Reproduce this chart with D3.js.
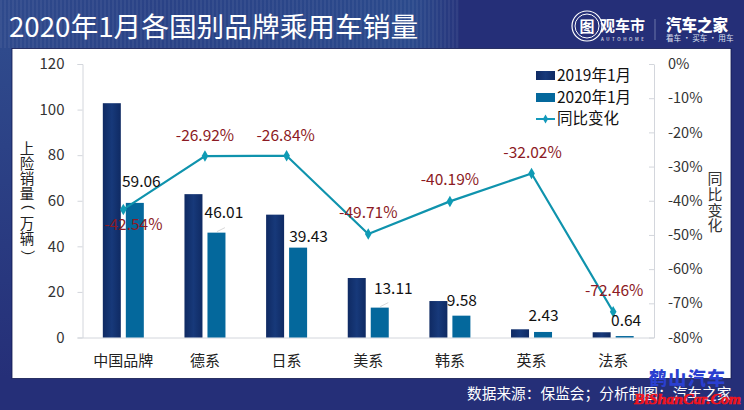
<!DOCTYPE html>
<html><head><meta charset="utf-8">
<script src="https://cdn.jsdelivr.net/npm/d3@7/dist/d3.min.js"></script>
<style>html,body{margin:0;padding:0;background:#252f78}svg{display:block}text{font-family:"Noto Sans CJK SC","Noto Sans",sans-serif}</style>
</head><body><svg id="c" width="744" height="410"></svg>
<script>
const categories=["中国品牌","德系","日系","美系","韩系","英系","法系"];
const sales2019=[102.8,62.9,53.9,26.1,16.0,3.6,2.3];
const sales2020=[59.06,46.01,39.43,13.11,9.58,2.43,0.64];
const change=[-42.54,-26.92,-26.84,-49.71,-40.19,-32.02,-72.46];
const leftTicks=[0,20,40,60,80,100,120];
const rightTicks=[0,-10,-20,-30,-40,-50,-60,-70,-80];
const seriesNames=["2019年1月","2020年1月","同比变化"];
const svg=d3.select("#c");
const defs=svg.append("defs");
const bg=defs.append("linearGradient").attr("id","bg").attr("x1",0).attr("x2",1);
bg.append("stop").attr("offset",0).attr("stop-color","#2f4a8c");
bg.append("stop").attr("offset",.35).attr("stop-color","#2a4286");
bg.append("stop").attr("offset",.9).attr("stop-color","#2b4a8c");
bg.append("stop").attr("offset",1).attr("stop-color","#27357c");
const sg=defs.append("linearGradient").attr("id","side").attr("x1",0).attr("x2",0).attr("y1",0).attr("y2",1);
sg.append("stop").attr("offset",0).attr("stop-color","#2f4a8c");
sg.append("stop").attr("offset",1).attr("stop-color","#252f78");
const st=defs.append("pattern").attr("id","st").attr("width",4).attr("height",4).attr("patternUnits","userSpaceOnUse");
st.append("rect").attr("width",2).attr("height",4).attr("fill","#fff").attr("opacity",.05);
const bar1=defs.append("linearGradient").attr("id","b1").attr("x1",0).attr("x2",1);
[[0,"#0f2a63"],[.5,"#17397a"],[1,"#0f2a63"]].forEach(s=>bar1.append("stop").attr("offset",s[0]).attr("stop-color",s[1]));
svg.append("rect").attr("width",744).attr("height",410).attr("fill","#252f78");
svg.append("rect").attr("width",459).attr("height",48).attr("fill","url(#bg)");
svg.append("rect").attr("width",459).attr("height",48).attr("fill","url(#st)");
svg.append("rect").attr("x",0).attr("y",48).attr("width",12).attr("height",330).attr("fill","url(#side)");
svg.append("rect").attr("x",12).attr("y",48.5).attr("width",719).attr("height",330).attr("fill","#fff").attr("stroke","#10184f").attr("stroke-width",.8);
svg.append("text").attr("x",9).attr("y",37).attr("font-size",27.7).attr("fill","#fff").text("2020年1月各国别品牌乘用车销量");

const x=d3.scaleBand().domain(categories).range([82.5,654]);
const yL=d3.scaleLinear().domain([0,120]).range([337.5,64]);
const yR=d3.scaleLinear().domain([-80,0]).range([337.5,64]);

const axL=svg.append("g").attr("transform","translate(82.5,0)").call(d3.axisLeft(yL).tickValues(leftTicks).tickSize(5).tickPadding(13));
const axR=svg.append("g").attr("transform","translate(654,0)").call(d3.axisRight(yR).tickValues(rightTicks).tickSize(0).tickPadding(14).tickFormat(d=>d+"%"));
axR.selectAll(".tick line").attr("x1",-5).attr("x2",0);
const axB=svg.append("g").attr("transform","translate(0,337.5)").call(d3.axisBottom(x).tickSize(0).tickPadding(18));
[axL,axR,axB].forEach(a=>{a.selectAll("path,line").attr("stroke","#d3d6dc");a.selectAll("text").attr("fill","#333").attr("font-size",15).style("font-family",'"Noto Sans CJK SC"');});
axR.selectAll("text").attr("font-size",14.5);
axB.selectAll("text").attr("fill","#222");

const bw=18;
svg.append("g").selectAll("rect").data(categories).join("rect")
 .attr("x",d=>x(d)+x.bandwidth()/2-20.5).attr("width",bw)
 .attr("y",(d,i)=>yL(sales2019[i])).attr("height",(d,i)=>yL(0)-yL(sales2019[i])).attr("fill","url(#b1)");
svg.append("g").selectAll("rect").data(categories).join("rect")
 .attr("x",d=>x(d)+x.bandwidth()/2+2.5).attr("width",bw)
 .attr("y",(d,i)=>yL(sales2020[i])).attr("height",(d,i)=>yL(0)-yL(sales2020[i])).attr("fill","#04689c");

const line=d3.line().x(d=>x(d.c)+x.bandwidth()/2).y(d=>yR(d.v));
const pts=categories.map((c,i)=>({c,v:change[i]}));
svg.append("path").datum(pts).attr("d",line).attr("fill","none").attr("stroke","#0f93ad").attr("stroke-width",2.2);
svg.append("g").selectAll("path").data(pts).join("path")
 .attr("d",d3.symbol(d3.symbolDiamond,38))
 .attr("transform",d=>`translate(${x(d.c)+x.bandwidth()/2},${yR(d.v)})`).attr("fill","#0f9bb5");

// leader lines from value labels to bars
svg.append("g").selectAll("line").data([1,3]).join("line")
 .attr("x1",i=>x(categories[i])+x.bandwidth()/2+12).attr("x2",i=>x(categories[i])+x.bandwidth()/2+20)
 .attr("y1",i=>yL(sales2020[i])-1).attr("y2",i=>yL(sales2020[i])-5)
 .attr("stroke","#d9d9d9").attr("stroke-width",1);

const valDx=[18,19,22,25,12,12,13], valDy=[-22,-21,-12,-20,-16,-17,-16];
svg.append("g").selectAll("text").data(categories).join("text")
 .attr("text-anchor","middle").attr("font-size",15.5).attr("fill","#111")
 .attr("x",(d,i)=>x(d)+x.bandwidth()/2+valDx[i]).attr("y",(d,i)=>yL(sales2020[i])+valDy[i]+6)
 .text((d,i)=>sales2020[i].toFixed(2));
const pctDy=[21,-15,-15,-16,-16,-15,-16], pctDx=[10,0,-1,0,0,1,1];
svg.append("g").selectAll("text").data(categories).join("text")
 .attr("text-anchor","middle").attr("font-size",15.5).attr("fill","#8c1a24")
 .attr("x",(d,i)=>x(d)+x.bandwidth()/2+pctDx[i]).attr("y",(d,i)=>yR(change[i])+pctDy[i])
 .text((d,i)=>change[i].toFixed(2)+"%");

// legend
const lg=svg.append("g");
lg.append("rect").attr("x",536).attr("y",71).attr("width",19).attr("height",9).attr("fill","url(#b1)");
lg.append("rect").attr("x",536).attr("y",93).attr("width",19).attr("height",9).attr("fill","#04689c");
lg.append("line").attr("x1",536).attr("x2",555).attr("y1",119).attr("y2",119).attr("stroke","#1399bb").attr("stroke-width",2);
lg.append("path").attr("d",d3.symbol(d3.symbolDiamond,24)).attr("transform","translate(545.5,119)").attr("fill","#1399bb");
seriesNames.forEach((s,i)=>lg.append("text").attr("x",557).attr("y",[80.5,102.5,124][i]).attr("font-size",15.5).attr("fill","#111").text(s));

// axis titles
const yt="上险销量（万辆）".split("");
const ytY=[153.5,168.5,183.5,199,208,228.5,243.5,262];
svg.append("g").selectAll("text").data(yt).join("text").attr("text-anchor","middle").attr("font-size",14.5).attr("fill","#222")
 .attr("x",27).attr("y",(d,i)=>ytY[i]).text(d=>d)
 .attr("transform",(d,i)=>(i==4||i==7)?`rotate(90 27 ${ytY[i]-5})`:null);
const rt=[184,200,216,231];
svg.append("g").selectAll("text").data("同比变化".split("")).join("text").attr("text-anchor","middle").attr("font-size",15).attr("fill","#333")
 .attr("x",715).attr("y",(d,i)=>rt[i]).text(d=>d);

// logos
const logo=svg.append("g");
logo.append("circle").attr("cx",587).attr("cy",26).attr("r",15).attr("fill","none").attr("stroke","#fff").attr("stroke-width",1.2);
logo.append("circle").attr("cx",587).attr("cy",26).attr("r",12).attr("fill","none").attr("stroke","#fff").attr("stroke-width",1);
logo.append("text").attr("x",587).attr("y",32).attr("text-anchor","middle").attr("font-size",15).attr("font-weight",700).attr("fill","#fff").text("图");
logo.append("text").attr("x",600).attr("y",31).attr("font-size",15).attr("font-weight",700).attr("fill","#fff").text("观车市");
logo.append("text").attr("x",601).attr("y",41).attr("font-size",4.5).attr("letter-spacing",2.6).attr("fill","#fff").text("AUTOHOME");
logo.append("line").attr("x1",655).attr("x2",655).attr("y1",19).attr("y2",40).attr("stroke","#7f88b5").attr("stroke-width",.8);
logo.append("text").attr("x",666).attr("y",31).attr("font-size",15.5).attr("font-weight",900).attr("fill","#fff").text("汽车之家");
logo.append("text").attr("x",666).attr("y",41).attr("font-size",7.6).attr("fill","#dfe3f2").text("看车 · 买车 · 用车");

svg.append("text").attr("x",467).attr("y",398.5).attr("font-size",14.7).attr("fill","#fff").text("数据来源：保监会；分析制图：汽车之家");
svg.append("text").attr("x",649).attr("y",385).attr("font-size",18).attr("font-weight",900).attr("textLength",76).attr("lengthAdjust","spacing").attr("fill","#2a3fd0").text("鹤山汽车");
svg.append("text").attr("x",634).attr("y",404).attr("font-size",15).attr("font-weight",900).attr("font-style","italic").attr("textLength",107).attr("lengthAdjust","spacingAndGlyphs").attr("fill","#f0141c").attr("stroke","#f0141c").attr("stroke-width",.6).style("font-family","'Liberation Serif'").text("BiShanCar.Com");
</script></body></html>
